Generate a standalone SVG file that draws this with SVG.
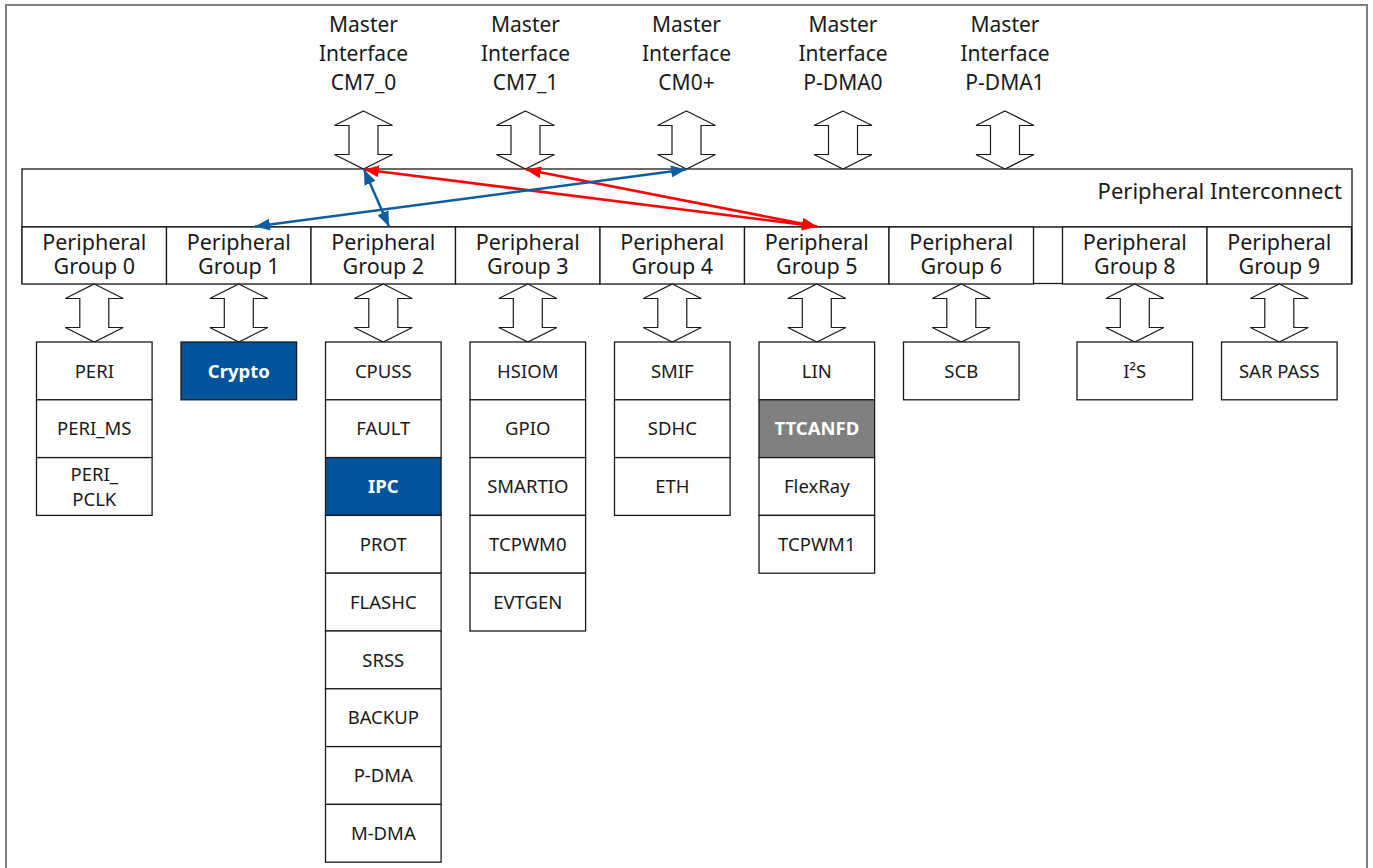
<svg xmlns="http://www.w3.org/2000/svg" width="1373" height="868" viewBox="0 0 1373 868">
  <style>
    text { font-family: "Noto Sans", "Open Sans", "DejaVu Sans", sans-serif; fill: #1a1a1a; text-anchor: middle; }
    .master { font-size: 21px; }
    .grp { font-size: 21.5px; }
    .bus { font-size: 22px; text-anchor: end; }
    .item { font-size: 18.5px; }
    .hl { font-weight: bold; fill: #ffffff; }
    .box { fill: #ffffff; stroke: #1a1a1a; stroke-width: 1.3; }
    .blue { fill: #01549A; stroke: #1a1a1a; stroke-width: 1.3; }
    .grey { fill: #808080; stroke: #1a1a1a; stroke-width: 1.3; }
    .dbl { fill: #ffffff; stroke: #1a1a1a; stroke-width: 1.2; stroke-linejoin: miter; }
    .lnk-r { stroke: #FF0000; stroke-width: 2.5; fill: none; marker-start: url(#headR); marker-end: url(#headR); }
    .lnk-b { stroke: #0D5E9F; stroke-width: 2.5; fill: none; marker-start: url(#headB); marker-end: url(#headB); }
  </style>
  <defs>
    <!-- hollow double-headed bus arrow, 58 px tall, tip at (0,0) -->
    <path id="busArrow" class="dbl" d="M0,0 L29,14.5 L14.5,14.5 L14.5,43.5 L29,43.5 L0,58 L-29,43.5 L-14.5,43.5 L-14.5,14.5 L-29,14.5 Z"/>
    <marker id="headR" viewBox="0 0 15 12" refX="15" refY="6" markerWidth="15" markerHeight="12" markerUnits="userSpaceOnUse" orient="auto-start-reverse">
      <path d="M0,0 L15,6 L0,12 Z" fill="#FF0000"/>
    </marker>
    <marker id="headB" viewBox="0 0 15 12" refX="15" refY="6" markerWidth="15" markerHeight="12" markerUnits="userSpaceOnUse" orient="auto-start-reverse">
      <path d="M0,0 L15,6 L0,12 Z" fill="#0D5E9F"/>
    </marker>
  </defs>

  <rect width="1373" height="868" fill="#ffffff"/>
  <!-- frame -->
  <rect x="6" y="5" width="1361" height="900" fill="none" stroke="#808080" stroke-width="2"/>

  <!-- bus masters -->
  <g id="master-cm7-0">
    <text class="master" x="363.5" y="32">Master</text>
    <text class="master" x="363.5" y="61">Interface</text>
    <text class="master" x="363.5" y="90">CM7_0</text>
    <use href="#busArrow" x="363.5" y="111"/>
  </g>
  <g id="master-cm7-1">
    <text class="master" x="525.5" y="32">Master</text>
    <text class="master" x="525.5" y="61">Interface</text>
    <text class="master" x="525.5" y="90">CM7_1</text>
    <use href="#busArrow" x="525.5" y="111"/>
  </g>
  <g id="master-cm0p">
    <text class="master" x="686.5" y="32">Master</text>
    <text class="master" x="686.5" y="61">Interface</text>
    <text class="master" x="686.5" y="90">CM0+</text>
    <use href="#busArrow" x="686.5" y="111"/>
  </g>
  <g id="master-pdma0">
    <text class="master" x="843" y="32">Master</text>
    <text class="master" x="843" y="61">Interface</text>
    <text class="master" x="843" y="90">P-DMA0</text>
    <use href="#busArrow" x="843" y="111"/>
  </g>
  <g id="master-pdma1">
    <text class="master" x="1005" y="32">Master</text>
    <text class="master" x="1005" y="61">Interface</text>
    <text class="master" x="1005" y="90">P-DMA1</text>
    <use href="#busArrow" x="1005" y="111"/>
  </g>

  <!-- peripheral interconnect -->
  <g id="interconnect">
    <rect class="box" x="22" y="169" width="1330" height="114.5"/>
    <line x1="22" y1="227" x2="1352" y2="227" stroke="#1a1a1a" stroke-width="1.3"/>
    <text class="bus" x="1342" y="199">Peripheral Interconnect</text>
  </g>

  <!-- peripheral groups -->
  <g id="group0">
    <rect class="box" x="22" y="227" width="144.5" height="57"/>
    <text class="grp" x="94.3" y="250">Peripheral</text>
    <text class="grp" x="94.3" y="274">Group 0</text>
    <use href="#busArrow" x="94.3" y="284"/>
  </g>
  <g id="group1">
    <rect class="box" x="166.5" y="227" width="144.5" height="57"/>
    <text class="grp" x="238.8" y="250">Peripheral</text>
    <text class="grp" x="238.8" y="274">Group 1</text>
    <use href="#busArrow" x="238.8" y="284"/>
  </g>
  <g id="group2">
    <rect class="box" x="311" y="227" width="144.5" height="57"/>
    <text class="grp" x="383.3" y="250">Peripheral</text>
    <text class="grp" x="383.3" y="274">Group 2</text>
    <use href="#busArrow" x="383.3" y="284"/>
  </g>
  <g id="group3">
    <rect class="box" x="455.5" y="227" width="144.5" height="57"/>
    <text class="grp" x="527.8" y="250">Peripheral</text>
    <text class="grp" x="527.8" y="274">Group 3</text>
    <use href="#busArrow" x="527.8" y="284"/>
  </g>
  <g id="group4">
    <rect class="box" x="600" y="227" width="144.5" height="57"/>
    <text class="grp" x="672.3" y="250">Peripheral</text>
    <text class="grp" x="672.3" y="274">Group 4</text>
    <use href="#busArrow" x="672.3" y="284"/>
  </g>
  <g id="group5">
    <rect class="box" x="744.5" y="227" width="144.5" height="57"/>
    <text class="grp" x="816.8" y="250">Peripheral</text>
    <text class="grp" x="816.8" y="274">Group 5</text>
    <use href="#busArrow" x="816.8" y="284"/>
  </g>
  <g id="group6">
    <rect class="box" x="889" y="227" width="144.5" height="57"/>
    <text class="grp" x="961.3" y="250">Peripheral</text>
    <text class="grp" x="961.3" y="274">Group 6</text>
    <use href="#busArrow" x="961.3" y="284"/>
  </g>
  <g id="group8">
    <rect class="box" x="1062.5" y="227" width="144.5" height="57"/>
    <text class="grp" x="1134.8" y="250">Peripheral</text>
    <text class="grp" x="1134.8" y="274">Group 8</text>
    <use href="#busArrow" x="1134.8" y="284"/>
  </g>
  <g id="group9">
    <rect class="box" x="1207" y="227" width="144.5" height="57"/>
    <text class="grp" x="1279.3" y="250">Peripheral</text>
    <text class="grp" x="1279.3" y="274">Group 9</text>
    <use href="#busArrow" x="1279.3" y="284"/>
  </g>

  <!-- peripheral blocks, rows 57.8 px tall starting at y=342 -->
  <g id="blocks-group0">
    <rect class="box" x="36.5" y="342" width="115.6" height="57.8"/>
    <text class="item" x="94.3" y="377.5">PERI</text>
    <rect class="box" x="36.5" y="399.8" width="115.6" height="57.8"/>
    <text class="item" x="94.3" y="435.3">PERI_MS</text>
    <rect class="box" x="36.5" y="457.6" width="115.6" height="57.8"/>
    <text class="item" x="94.3" y="481">PERI_</text>
    <text class="item" x="94.3" y="505.5">PCLK</text>
  </g>
  <g id="blocks-group1">
    <rect class="blue" x="181" y="342" width="115.6" height="57.8"/>
    <text class="item hl" x="238.8" y="377.5">Crypto</text>
  </g>
  <g id="blocks-group2">
    <rect class="box" x="325.5" y="342" width="115.6" height="57.8"/>
    <text class="item" x="383.3" y="377.5">CPUSS</text>
    <rect class="box" x="325.5" y="399.8" width="115.6" height="57.8"/>
    <text class="item" x="383.3" y="435.3">FAULT</text>
    <rect class="blue" x="325.5" y="457.6" width="115.6" height="57.8"/>
    <text class="item hl" x="383.3" y="493.1">IPC</text>
    <rect class="box" x="325.5" y="515.4" width="115.6" height="57.8"/>
    <text class="item" x="383.3" y="550.9">PROT</text>
    <rect class="box" x="325.5" y="573.2" width="115.6" height="57.8"/>
    <text class="item" x="383.3" y="608.7">FLASHC</text>
    <rect class="box" x="325.5" y="631" width="115.6" height="57.8"/>
    <text class="item" x="383.3" y="666.5">SRSS</text>
    <rect class="box" x="325.5" y="688.8" width="115.6" height="57.8"/>
    <text class="item" x="383.3" y="724.3">BACKUP</text>
    <rect class="box" x="325.5" y="746.6" width="115.6" height="57.8"/>
    <text class="item" x="383.3" y="782.1">P-DMA</text>
    <rect class="box" x="325.5" y="804.4" width="115.6" height="57.8"/>
    <text class="item" x="383.3" y="839.9">M-DMA</text>
  </g>
  <g id="blocks-group3">
    <rect class="box" x="470" y="342" width="115.6" height="57.8"/>
    <text class="item" x="527.8" y="377.5">HSIOM</text>
    <rect class="box" x="470" y="399.8" width="115.6" height="57.8"/>
    <text class="item" x="527.8" y="435.3">GPIO</text>
    <rect class="box" x="470" y="457.6" width="115.6" height="57.8"/>
    <text class="item" x="527.8" y="493.1">SMARTIO</text>
    <rect class="box" x="470" y="515.4" width="115.6" height="57.8"/>
    <text class="item" x="527.8" y="550.9">TCPWM0</text>
    <rect class="box" x="470" y="573.2" width="115.6" height="57.8"/>
    <text class="item" x="527.8" y="608.7">EVTGEN</text>
  </g>
  <g id="blocks-group4">
    <rect class="box" x="614.5" y="342" width="115.6" height="57.8"/>
    <text class="item" x="672.3" y="377.5">SMIF</text>
    <rect class="box" x="614.5" y="399.8" width="115.6" height="57.8"/>
    <text class="item" x="672.3" y="435.3">SDHC</text>
    <rect class="box" x="614.5" y="457.6" width="115.6" height="57.8"/>
    <text class="item" x="672.3" y="493.1">ETH</text>
  </g>
  <g id="blocks-group5">
    <rect class="box" x="759" y="342" width="115.6" height="57.8"/>
    <text class="item" x="816.8" y="377.5">LIN</text>
    <rect class="grey" x="759" y="399.8" width="115.6" height="57.8"/>
    <text class="item hl" x="816.8" y="435.3">TTCANFD</text>
    <rect class="box" x="759" y="457.6" width="115.6" height="57.8"/>
    <text class="item" x="816.8" y="493.1">FlexRay</text>
    <rect class="box" x="759" y="515.4" width="115.6" height="57.8"/>
    <text class="item" x="816.8" y="550.9">TCPWM1</text>
  </g>
  <g id="blocks-group6">
    <rect class="box" x="903.5" y="342" width="115.6" height="57.8"/>
    <text class="item" x="961.3" y="377.5">SCB</text>
  </g>
  <g id="blocks-group8">
    <rect class="box" x="1077" y="342" width="115.6" height="57.8"/>
    <text class="item" x="1134.8" y="377.5">I²S</text>
  </g>
  <g id="blocks-group9">
    <rect class="box" x="1221.5" y="342" width="115.6" height="57.8"/>
    <text class="item" x="1279.3" y="377.5">SAR PASS</text>
  </g>

  <!-- access paths between masters and peripheral groups -->
  <g id="connectors">
    <line class="lnk-r" x1="364" y1="169.5" x2="817" y2="226.5"/>
    <line class="lnk-r" x1="526" y1="169.5" x2="817" y2="226.5"/>
    <line class="lnk-b" x1="686" y1="169.5" x2="255" y2="226.5"/>
    <line class="lnk-b" x1="364" y1="169.5" x2="389" y2="226.5"/>
  </g>
</svg>
